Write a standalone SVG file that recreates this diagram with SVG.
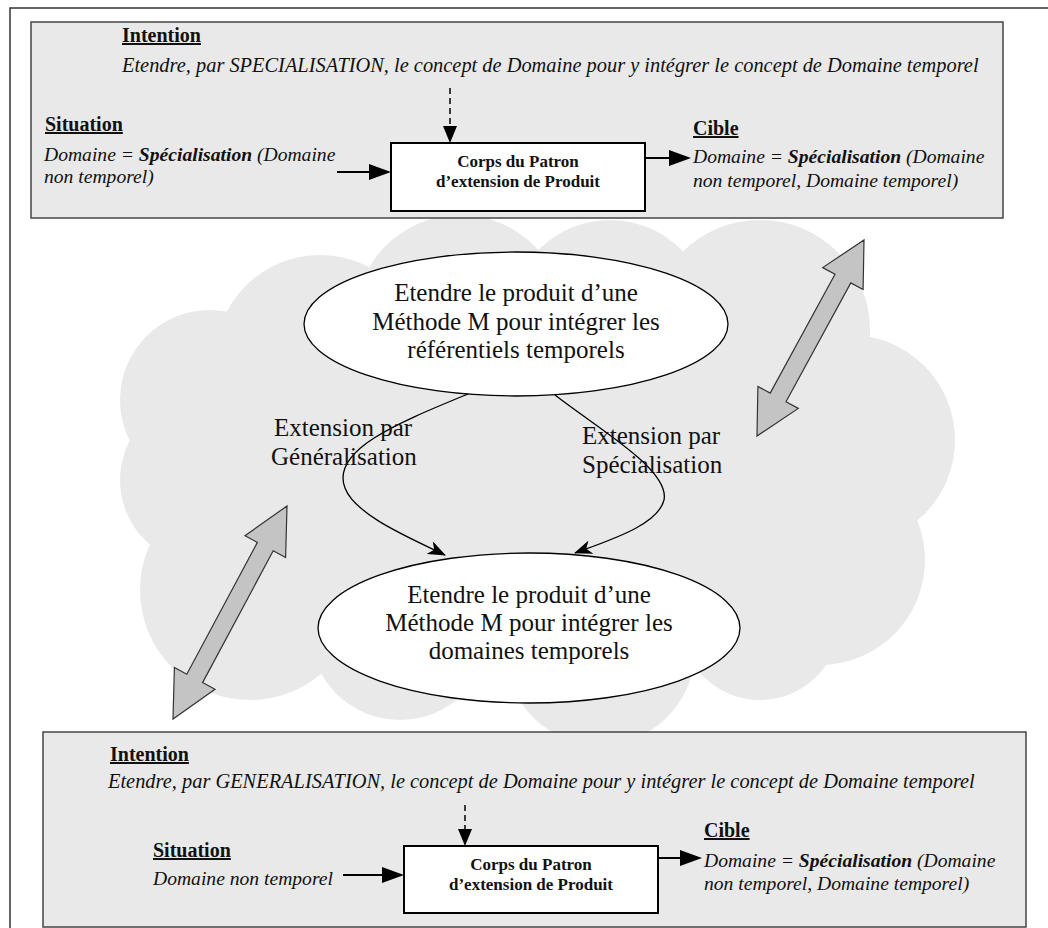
<svg xmlns="http://www.w3.org/2000/svg" width="1048" height="928" viewBox="0 0 1048 928">
  <style>
    text { font-family: "Liberation Serif", "Times New Roman", serif; fill: #111; }
    .h { font-weight: bold; font-size: 20px; text-decoration: underline; }
    .it { font-style: italic; font-size: 19.6px; }
    .it.wide { font-size: 20.4px; }
    .bx { font-weight: bold; font-size: 17px; }
    .el { font-size: 25px; }
    .frame { fill: none; stroke: #333; stroke-width: 1.5; }
    .panel { fill: #e9e9e9; stroke: #444; stroke-width: 1.5; }
    .body { fill: #fff; stroke: #000; stroke-width: 2; }
    .oval { fill: #fff; stroke: #000; stroke-width: 1.3; }
    .cloud * { fill: #e9e9e9; }
    .flow { stroke: #000; stroke-width: 2; fill: none; }
    .dash { stroke: #000; stroke-width: 1.5; stroke-dasharray: 6 4; fill: none; }
    .curve { stroke: #000; stroke-width: 1.3; fill: none; }
    .dbl { fill: #c4c4c4; stroke: #333; stroke-width: 1.2; }
  </style>
  <defs>
    <marker id="tri" markerUnits="userSpaceOnUse" markerWidth="22" markerHeight="16" refX="1" refY="8" orient="auto">
      <path d="M0,0 L22,8 L0,16 z" fill="#000"/>
    </marker>
    <marker id="tri-s" markerUnits="userSpaceOnUse" markerWidth="17" markerHeight="14" refX="1" refY="7" orient="auto">
      <path d="M0,0 L17,7 L0,14 z" fill="#000"/>
    </marker>
    <marker id="barb" markerUnits="userSpaceOnUse" markerWidth="18" markerHeight="14" refX="17" refY="7" orient="auto">
      <path d="M0,0 L18,7 L0,14 L5,7 z" fill="#000"/>
    </marker>
  </defs>

  <!-- page frame -->
  <rect class="frame" x="10" y="8" width="1050" height="940"/>

  <!-- cloud backdrop -->
  <g id="cloud" class="cloud">
    <ellipse cx="540" cy="470" rx="330" ry="200"/>
    <circle cx="210" cy="400" r="90"/>
    <circle cx="205" cy="480" r="85"/>
    <circle cx="320" cy="360" r="105"/>
    <circle cx="460" cy="320" r="105"/>
    <circle cx="610" cy="320" r="100"/>
    <circle cx="760" cy="330" r="110"/>
    <circle cx="850" cy="440" r="105"/>
    <circle cx="820" cy="560" r="105"/>
    <circle cx="250" cy="590" r="110"/>
    <circle cx="400" cy="630" r="90"/>
    <circle cx="600" cy="650" r="95"/>
    <circle cx="760" cy="620" r="80"/>
  </g>

  <!-- upper pattern panel -->
  <g id="pattern-spec">
    <rect class="panel" x="31" y="22" width="972" height="196"/>
    <text class="h" x="122" y="42">Intention</text>
    <text class="it wide" x="122" y="72">Etendre, par SPECIALISATION, le concept de Domaine pour y intégrer le concept de Domaine temporel</text>
    <text class="h" x="45" y="131">Situation</text>
    <text class="it" x="44" y="161">Domaine = <tspan font-weight="bold">Spécialisation</tspan> (Domaine</text>
    <text class="it" x="44" y="183">non temporel)</text>
    <rect class="body" x="391" y="143" width="254" height="68"/>
    <text class="bx" x="518" y="167" text-anchor="middle">Corps du Patron</text>
    <text class="bx" x="518" y="187" text-anchor="middle">d’extension de Produit</text>
    <text class="h" x="693" y="135">Cible</text>
    <text class="it" x="693" y="163">Domaine = <tspan font-weight="bold">Spécialisation</tspan> (Domaine</text>
    <text class="it" x="693" y="187">non temporel, Domaine temporel)</text>
    <line class="dash" x1="450" y1="88" x2="450" y2="127" marker-end="url(#tri-s)"/>
    <line class="flow" x1="337" y1="172" x2="370" y2="172" marker-end="url(#tri)"/>
    <line class="flow" x1="645" y1="158" x2="670" y2="158" marker-end="url(#tri)"/>
  </g>

  <!-- lower pattern panel -->
  <g id="pattern-gen">
    <rect class="panel" x="43" y="732" width="983" height="195"/>
    <text class="h" x="110" y="761">Intention</text>
    <text class="it wide" x="108" y="788">Etendre, par GENERALISATION, le concept de Domaine pour y intégrer le concept de Domaine temporel</text>
    <text class="h" x="153" y="857">Situation</text>
    <text class="it" x="153" y="885">Domaine non temporel</text>
    <rect class="body" x="404" y="846" width="254" height="67"/>
    <text class="bx" x="531" y="870" text-anchor="middle">Corps du Patron</text>
    <text class="bx" x="531" y="890" text-anchor="middle">d’extension de Produit</text>
    <text class="h" x="704" y="837">Cible</text>
    <text class="it" x="704" y="867">Domaine = <tspan font-weight="bold">Spécialisation</tspan> (Domaine</text>
    <text class="it" x="704" y="890">non temporel, Domaine temporel)</text>
    <line class="dash" x1="465" y1="805" x2="465" y2="830" marker-end="url(#tri-s)"/>
    <line class="flow" x1="343" y1="875" x2="383" y2="875" marker-end="url(#tri)"/>
    <line class="flow" x1="658" y1="858" x2="681" y2="858" marker-end="url(#tri)"/>
  </g>

  <!-- intention nodes -->
  <g id="intent-referentiels">
    <ellipse class="oval" cx="516" cy="324" rx="212" ry="72"/>
    <text class="el" x="516" y="301" text-anchor="middle">Etendre le produit d’une</text>
    <text class="el" x="516" y="330" text-anchor="middle">Méthode M pour intégrer les</text>
    <text class="el" x="516" y="358" text-anchor="middle">référentiels temporels</text>
  </g>
  <g id="intent-domaines">
    <ellipse class="oval" cx="529" cy="628" rx="211" ry="75"/>
    <text class="el" x="529" y="603" text-anchor="middle">Etendre le produit d’une</text>
    <text class="el" x="529" y="631" text-anchor="middle">Méthode M pour intégrer les</text>
    <text class="el" x="529" y="659" text-anchor="middle">domaines temporels</text>
  </g>

  <!-- connectors -->
  <g id="connectors">
    <path class="curve" d="M468,394 C400,422 330,450 345,488 C355,515 410,538 445,555" marker-end="url(#barb)"/>
    <path class="curve" d="M555,395 C600,430 670,470 664,500 C658,525 610,540 575,553" marker-end="url(#barb)"/>
    <text class="el" x="274" y="436">Extension par</text>
    <text class="el" x="271" y="465">Généralisation</text>
    <text class="el" x="582" y="444">Extension par</text>
    <text class="el" x="582" y="473">Spécialisation</text>
    <!-- double arrows linking the patterns to the map -->
    <polygon class="dbl" points="864,240 863.1,289.6 850.8,282.9 786,401.7 798.3,408.4 757,436 757.9,386.4 770.2,393.1 835,274.3 822.7,267.6"/>
    <polygon class="dbl" points="287,506 285.6,557.5 273.2,550.8 202.6,682.6 215,689.3 173,719 174.4,667.5 186.8,674.2 257.4,542.4 245,535.7"/>
  </g>
</svg>
